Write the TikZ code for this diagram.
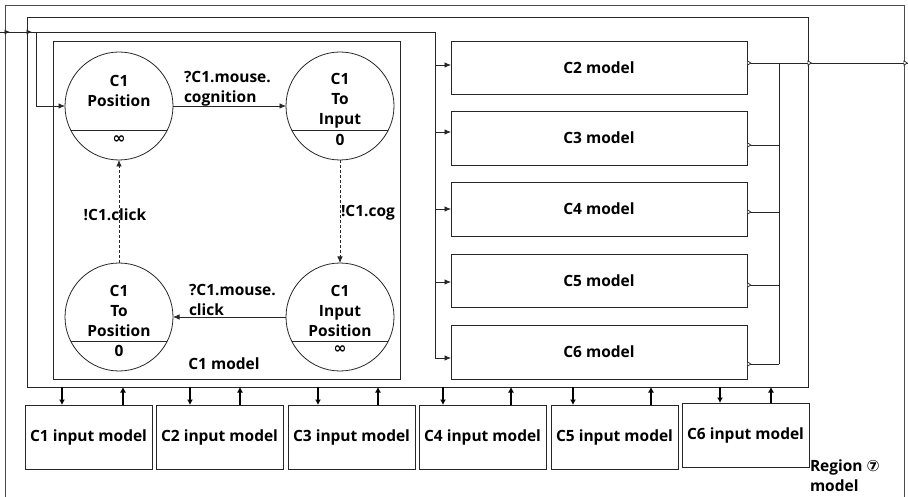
\documentclass[tikz,border=0pt]{standalone}
\usepackage{fontspec}
\setmainfont{Open Sans}
\newfontfamily\symfont{DejaVu Sans}
\usetikzlibrary{arrows.meta,decorations.markings}

\begin{document}
\begin{tikzpicture}[x=1pt,y=-1pt,
  every node/.style={font=\bfseries\fontsize{15.5}{20}\selectfont, inner sep=0pt, outer sep=0pt},
  wire/.style={draw=black!85, line width=0.8pt},
  box/.style={wire, rectangle},
  state/.style={wire, circle, minimum size=108pt},
  fwd/.style={-{Latex[length=6.5pt,width=5.5pt]}},
  io/.style={draw=black, line width=1.6pt, -{Latex[length=5.5pt,width=6pt]}},
  dashedwire/.style={wire, dash pattern=on 3pt off 2pt},
  outmark/.style={postaction={decorate, decoration={markings,
      mark=at position #1 with {\arrow{Triangle[length=4.5pt,width=5.5pt,fill=white,line width=0.7pt]}}}}},
  inmark/.style={postaction={decorate, decoration={markings,
      mark=at position #1 with {\arrow{Latex[length=5.5pt,width=5pt]}}}}},
]
\useasboundingbox (0,0) rectangle (908,497);
\clip (0,0) rectangle (908,497);

% enclosing boxes
\node[box, draw=black!70, minimum width=899, minimum height=520, anchor=north west] (region) at (5,5) {};
\node[box, minimum width=781, minimum height=370, anchor=north west] (cells) at (27,17) {};
\node[box, minimum width=347, minimum height=338, anchor=north west] (c1m) at (53,41) {};

% C2..C6 models
\foreach \n/\t/\h in {2/41/53, 3/111/54, 4/182/54, 5/254/53, 6/325/54}
  \node[box, minimum width=296, minimum height=\h, anchor=north west] (c\n) at (451,\t) {\raisebox{-2pt}{C\n{} model}};

% input models
\foreach \n/\x/\t in {1/25/405, 2/156/405, 3/288/405, 4/419/405, 5/551/405, 6/682/403}
  \node[box, minimum width=127, minimum height=64, anchor=north west] (ci\n) at (\x,\t) {C\n{} input model};

\node[align=left, anchor=north west] (rlabel) at (810,460) {Region {\symfont ⑦}\\model};

% C1 states
\node[state] (cpos)   at (119,106) {};
\node[state] (ctoin)  at (340,106) {};
\node[state] (ctopos) at (119,317) {};
\node[state] (cinpos) at (340,317) {};
\foreach \s in {cpos,ctoin,ctopos,cinpos}
  \draw[wire] ([shift={(-48.4,24)}]\s.center) -- ([shift={(48.4,24)}]\s.center);

\node[align=center] (cposname)   at (119,91)  {C1\\Position};
\node (cposval)   at (119,140) {\symfont ∞};
\node[align=center] (ctoinname)  at (340,101) {C1\\To\\Input};
\node (ctoinval)  at (340,140) {0};
\node[align=center] (ctoposname) at (119,311) {C1\\To\\Position};
\node (ctoposval) at (119,351) {0};
\node[align=center] (cinposname) at (340,311) {C1\\Input\\Position};
\node (cinposval) at (340,350) {\symfont ∞};

% C1 transitions
\draw[wire, fwd] (cpos.east) -- (ctoin.west);
\node[align=left, anchor=west] (lab1) at (184,89) {?C1.mouse.\\cognition};
\draw[dashedwire, fwd] (ctoin.south) -- (cinpos.north);
\node[anchor=west] (lab2) at (341,213) {!C1.cog};
\draw[wire, fwd] (cinpos.west) -- (ctopos.east);
\node[align=left, anchor=west] (lab3) at (189,300) {?C1.mouse.\\click};
\draw[dashedwire, fwd] (ctopos.north) -- (cpos.south);
\node (lab4) at (115,215) {!C1.click};
\node (c1title) at (224,364) {C1 model};

% input bus
\coordinate (src) at (0,32);
\coordinate (bus) at (435,32);
\coordinate (tap) at (36,32);
\coordinate (i2) at ([yshift=2.5pt]c2.west);
\coordinate (i3) at ([yshift=6pt]c3.west);
\coordinate (i4) at (c4.west);
\coordinate (i5) at ([yshift=-1.5pt]c5.west);
\coordinate (i6) at ([yshift=-6pt]c6.west);
\draw[wire, inmark=10pt, inmark=32pt] (src) -- (bus);
\draw[wire] (bus) -- (i6 -| bus);
\draw[wire, fwd] (tap) |- (cpos.west);
\foreach \k in {2,...,6}
  \draw[wire, fwd] (i\k -| bus) -- (i\k);

% output collector
\coordinate (col) at (779,0);
\coordinate (sink) at (908,0);
\coordinate (o2) at ([yshift=4.5pt]c2.east);
\coordinate (o3) at ([yshift=-7pt]c3.east);
\coordinate (o4) at ([yshift=-3pt]c4.east);
\coordinate (o5) at ([yshift=-4.5pt]c5.east);
\coordinate (o6) at ([yshift=-12pt]c6.east);
\foreach \k in {2,...,6}
  \draw[wire, outmark=4.5pt] (o\k) -- (o\k -| col);
\draw[wire] (o2 -| col) -- (o6 -| col);
\draw[wire, outmark=33pt, outmark=129pt] (o2 -| col) -- (o2 -| sink);

% links to the input models
\foreach \k/\d/\u in {1/62/123, 2/190/240, 3/318/378, 4/443/511, 5/573/651, 6/720/771} {
  \coordinate (d\k) at (\d,0);
  \coordinate (u\k) at (\u,0);
  \draw[io] (d\k |- cells.south) -- (d\k |- ci\k.north);
  \draw[io] (u\k |- ci\k.north) -- (u\k |- cells.south);
}
\end{tikzpicture}
\end{document}
